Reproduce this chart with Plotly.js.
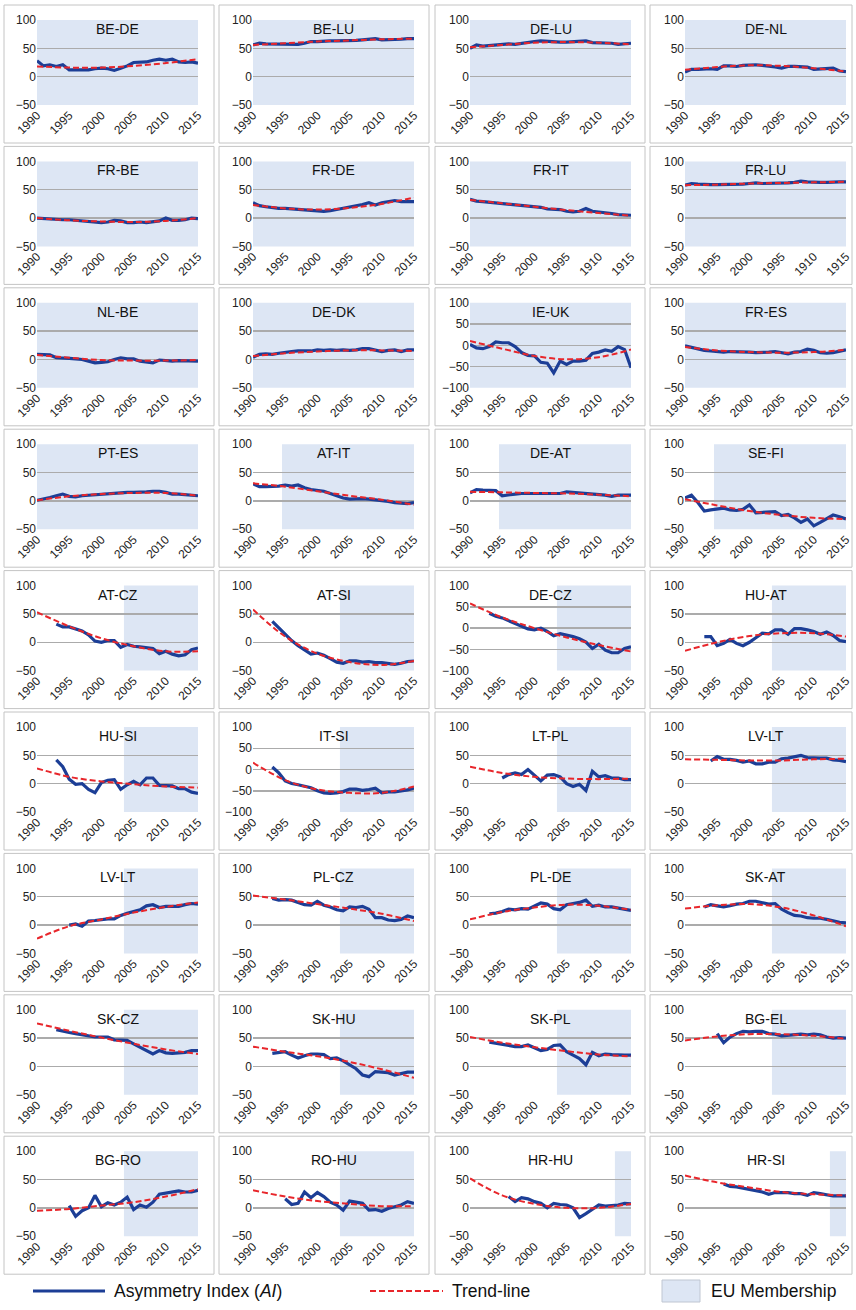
<!DOCTYPE html>
<html>
<head>
<meta charset="utf-8">
<script src="https://cdn.plot.ly/plotly-3.0.1.min.js"></script>
<style>
  html, body { margin: 0; padding: 0; background: #ffffff; }
  #chart { width: 856px; height: 1310px; }
</style>
</head>
<body>
<div id="chart"></div>
<script>
// ---------------- DATA ----------------
const pairs = ['BE-DE','BE-LU','DE-LU','DE-NL',
               'FR-BE','FR-DE','FR-IT','FR-LU',
               'NL-BE','DE-DK','IE-UK','FR-ES',
               'PT-ES','AT-IT','DE-AT','SE-FI',
               'AT-CZ','AT-SI','DE-CZ','HU-AT',
               'HU-SI','IT-SI','LT-PL','LV-LT',
               'LV-LT','PL-CZ','PL-DE','SK-AT',
               'SK-CZ','SK-HU','SK-PL','BG-EL',
               'BG-RO','RO-HU','HR-HU','HR-SI'];

// first year of the Asymmetry Index series
const firstYear = [1990,1990,1990,1990,
                   1990,1990,1990,1990,
                   1990,1990,1990,1990,
                   1990,1990,1990,1990,
                   1993,1993,1993,1993,
                   1993,1993,1995,1994,
                   1995,1993,1993,1993,
                   1993,1993,1993,1995,
                   1995,1995,1996,1996];

// year from which both countries are EU members (old members: before 1990)
const euYear = [1958,1958,1958,1958,
                1958,1958,1958,1958,
                1958,1973,1973,1986,
                1986,1995,1995,1995,
                2004,2004,2004,2004,
                2004,2004,2004,2004,
                2004,2004,2004,2004,
                2004,2004,2004,2004,
                2004,2004,2013,2013];

const trendYears = [1990,1995,2000,2005,2010,2015];

// x tick labels (as printed, including the original misprints)
const ticksStd = ['1990','1995','2000','2005','2010','2015'];
const ticksA   = ['1990','1995','2000','2095','2010','2015'];
const ticksB   = ['1990','1995','2000','1995','2010','2015'];
const ticksC   = ['1990','1995','2000','1995','1910','1915'];

// Asymmetry Index series
const AI_BE_DE = [28,19,21,18,21,12,12,12,12,14,15,14,11,15,19,25,25,26,29,31,29,31,26,25,26,24];
const AI_BE_LU = [56,59,58,58,58,58,58,57,59,62,62,63,63,63,63,63,64,65,66,67,65,65,66,66,67,67];
const AI_DE_LU = [50,56,54,55,56,57,58,57,59,60,62,63,62,61,61,61,62,62,63,60,60,60,59,57,58,59];
const AI_DE_NL = [8,13,13,14,14,13,19,19,18,20,21,21,20,19,17,15,18,18,18,17,13,14,14,15,10,9];
const AI_FR_BE = [0,-1,-2,-2,-3,-3,-4,-4,-5,-6,-8,-7,-4,-5,-8,-8,-7,-8,-6,-5,0,-4,-4,-3,0,-1];
const AI_FR_DE = [27,22,20,18,17,17,16,15,14,13,12,12,13,15,17,19,22,24,27,23,27,29,31,29,29,29];
const AI_FR_IT = [33,30,29,28,27,25,24,24,23,22,21,19,16,15,15,12,11,12,17,12,11,10,8,6,5,5];
const AI_FR_LU = [58,61,60,59,59,59,59,59,60,60,61,62,61,61,62,62,62,63,65,64,63,63,63,64,64,64];
const AI_NL_BE = [9,9,8,3,3,2,1,0,-3,-6,-5,-4,0,3,1,1,-3,-5,-6,-1,-2,-3,-2,-2,-2,-3];
const AI_DE_DK = [4,9,10,9,11,13,14,15,15,15,17,16,17,16,17,16,17,19,19,16,14,16,17,14,17,17];
const AI_IE_UK = [2,-6,-8,-3,8,6,6,-3,-17,-24,-25,-40,-42,-65,-37,-45,-37,-37,-35,-19,-16,-11,-14,-3,-10,-53];
const AI_FR_ES = [24,21,18,16,15,14,13,14,14,14,13,12,12,13,14,12,10,13,14,18,16,12,11,12,15,17];
const AI_PT_ES = [1,3,6,9,12,8,7,9,10,10,11,12,13,14,15,15,15,16,17,17,15,12,12,11,9,9];
const AI_AT_IT = [30,25,25,25,26,28,26,28,23,20,19,17,13,9,5,3,4,4,3,2,1,-1,-3,-4,-5,-3];
const AI_DE_AT = [14,20,19,19,18,9,11,12,13,13,13,13,12,12,13,16,15,15,14,12,12,10,8,10,10,10];
const AI_SE_FI = [5,10,-3,-18,-16,-14,-13,-16,-17,-15,-7,-21,-20,-19,-19,-26,-24,-30,-38,-32,-44,-38,-31,-25,-28,-32];
const AI_AT_CZ = [32,27,27,24,20,13,2,0,3,3,-9,-4,-7,-8,-10,-11,-20,-16,-21,-24,-22,-13,-10];
const AI_AT_SI = [37,25,13,3,-6,-13,-21,-19,-23,-29,-35,-37,-33,-33,-35,-34,-36,-36,-38,-39,-37,-34,-33];
const AI_DE_CZ = [35,28,24,18,12,5,-2,-4,0,-8,-18,-13,-16,-20,-25,-33,-48,-38,-52,-58,-58,-48,-44];
const AI_HU_AT = [10,10,-6,-2,5,-2,-6,0,8,16,15,22,22,14,24,24,22,19,14,18,12,3,1];
const AI_HU_SI = [42,30,8,-1,0,-10,-16,2,6,7,-10,-2,4,-2,10,10,-3,-3,-4,-9,-9,-15,-17];
const AI_IT_SI = [6,-8,-27,-33,-36,-40,-43,-50,-55,-56,-55,-52,-46,-46,-49,-47,-44,-55,-53,-53,-51,-48,-44];
const AI_LT_PL = [10,16,19,16,25,15,5,15,16,12,0,-5,-1,-12,22,12,14,10,10,7,7];
const AI_LV_LT_A = [40,48,43,43,41,38,40,35,35,38,38,44,45,47,50,46,45,45,45,42,41,39];
const AI_LV_LT_B = [0,2,-2,7,8,10,11,11,17,21,24,27,34,36,31,33,33,33,36,38,37];
const AI_PL_CZ = [47,44,45,44,40,36,35,42,35,32,27,25,32,31,33,28,13,13,9,8,10,16,13];
const AI_PL_DE = [20,21,24,28,27,29,28,33,39,37,29,27,36,38,40,44,33,35,32,32,30,29,26];
const AI_SK_AT = [32,36,34,32,34,37,38,42,42,40,37,38,28,22,17,16,13,12,12,10,7,5,4];
const AI_SK_CZ = [65,62,60,58,56,54,52,52,52,47,47,46,40,34,28,22,28,24,23,24,25,28,28];
const AI_SK_HU = [23,24,26,20,15,19,22,22,21,14,15,10,3,-4,-15,-18,-9,-10,-11,-15,-13,-10,-10];
const AI_SK_PL = [43,41,39,37,35,35,38,33,28,30,37,38,26,20,14,3,25,19,22,21,20,20,20];
const AI_BG_EL = [58,42,52,58,62,61,62,62,58,57,54,55,57,57,56,57,56,52,50,51,50];
const AI_BG_RO = [4,-15,-5,0,22,2,9,5,10,19,-3,5,1,10,24,26,27,30,28,28,31];
const AI_RO_HU = [16,6,8,28,18,27,20,10,5,-4,12,10,8,-4,-3,-6,-1,2,5,11,8];
const AI_HR_HU = [20,11,18,16,11,8,0,8,6,5,0,-17,-10,-3,5,3,4,5,8,7];
const AI_HR_SI = [42,38,37,35,33,30,28,24,27,27,27,25,25,22,27,25,23,21,21,21];

// Trend-line values read at 1990, 1995, 2000, 2005, 2010, 2015
const TR_BE_DE = [18,16,16,19,24,31];
const TR_BE_LU = [56,59,62,64,66,67];
const TR_DE_LU = [52,56,60,61,60,57];
const TR_DE_NL = [12,17,20,19,15,9];
const TR_FR_BE = [0,-4,-6,-7,-5,0];
const TR_FR_DE = [23,17,15,18,25,36];
const TR_FR_IT = [32,26,20,14,9,4];
const TR_FR_LU = [58,59,61,62,63,64];
const TR_NL_BE = [8,3,-1,-2,-2,-1];
const TR_DE_DK = [6,11,14,16,16,15];
const TR_IE_UK = [10,-8,-25,-33,-28,-10];
const TR_FR_ES = [22,16,13,12,13,17];
const TR_PT_ES = [1,8,12,14,14,9];
const TR_AT_IT = [31,25,17,9,2,-7];
const TR_DE_AT = [16,15,14,13,11,8];
const TR_SE_FI = [3,-8,-18,-25,-30,-32];
const TR_AT_CZ = [53,28,7,-7,-16,-16];
const TR_AT_SI = [58,10,-20,-35,-40,-33];
const TR_DE_CZ = [58,25,0,-22,-40,-55];
const TR_HU_AT = [-15,0,11,16,16,10];
const TR_HU_SI = [27,12,4,-1,-5,-7];
const TR_IT_SI = [16,-25,-47,-55,-55,-40];
const TR_LT_PL = [30,19,12,9,8,9];
const TR_LV_LT_A = [43,42,41,41,43,44];
const TR_LV_LT_B = [-24,-2,10,22,32,40];
const TR_PL_CZ = [52,45,37,29,20,7];
const TR_PL_DE = [10,23,31,36,34,27];
const TR_SK_AT = [29,35,37,31,17,-2];
const TR_SK_CZ = [76,63,51,40,30,22];
const TR_SK_HU = [35,26,18,8,-5,-20];
const TR_SK_PL = [52,42,34,27,21,18];
const TR_BG_EL = [46,53,57,57,54,49];
const TR_BG_RO = [-5,-2,4,10,20,33];
const TR_RO_HU = [31,20,12,7,3,3];
const TR_HR_HU = [52,22,7,0,0,7];
const TR_HR_SI = [57,45,36,28,24,22];

const aiSeries = [AI_BE_DE,AI_BE_LU,AI_DE_LU,AI_DE_NL,AI_FR_BE,AI_FR_DE,AI_FR_IT,AI_FR_LU,
  AI_NL_BE,AI_DE_DK,AI_IE_UK,AI_FR_ES,AI_PT_ES,AI_AT_IT,AI_DE_AT,AI_SE_FI,
  AI_AT_CZ,AI_AT_SI,AI_DE_CZ,AI_HU_AT,AI_HU_SI,AI_IT_SI,AI_LT_PL,AI_LV_LT_A,
  AI_LV_LT_B,AI_PL_CZ,AI_PL_DE,AI_SK_AT,AI_SK_CZ,AI_SK_HU,AI_SK_PL,AI_BG_EL,
  AI_BG_RO,AI_RO_HU,AI_HR_HU,AI_HR_SI];
const trendSeries = [TR_BE_DE,TR_BE_LU,TR_DE_LU,TR_DE_NL,TR_FR_BE,TR_FR_DE,TR_FR_IT,TR_FR_LU,
  TR_NL_BE,TR_DE_DK,TR_IE_UK,TR_FR_ES,TR_PT_ES,TR_AT_IT,TR_DE_AT,TR_SE_FI,
  TR_AT_CZ,TR_AT_SI,TR_DE_CZ,TR_HU_AT,TR_HU_SI,TR_IT_SI,TR_LT_PL,TR_LV_LT_A,
  TR_LV_LT_B,TR_PL_CZ,TR_PL_DE,TR_SK_AT,TR_SK_CZ,TR_SK_HU,TR_SK_PL,TR_BG_EL,
  TR_BG_RO,TR_RO_HU,TR_HR_HU,TR_HR_SI];
const tickSets = [ticksStd,ticksStd,ticksA,ticksA, ticksStd,ticksB,ticksC,ticksC];

// ---------------- LAYOUT ----------------
const W = 856, H = 1310;
const colPlotL = [37, 253, 470, 685];
const plotW = 161;
const colBoxL = [4, 219, 435, 650];
const colBoxR = [214, 429, 645, 852];
const rowTop0 = 20, rowPitch = 141.4, plotH = 85;

const FONT = 'Liberation Sans, Arial, sans-serif';
const BLUE = '#1c3e96';
const RED = '#e8262b';
const EUFILL = '#dde6f4';

const px = v => v / W;
const py = v => 1 - v / H;

const traces = [];
const shapes = [];
const annotations = [];
const layout = {
  width: W, height: H,
  margin: {l: 0, r: 0, t: 0, b: 0},
  paper_bgcolor: '#ffffff',
  plot_bgcolor: 'rgba(0,0,0,0)',
  showlegend: false,
  font: {family: FONT, color: '#222222'}
};

pairs.forEach((name, i) => {
  const n = i + 1;
  const sfx = n === 1 ? '' : String(n);
  const r = Math.floor(i / 4), c = i % 4;
  const top = rowTop0 + r * rowPitch;
  const left = colPlotL[c];
  const vals = aiSeries[i];
  const xs = vals.map((v, k) => firstYear[i] + k);
  const minV = Math.min(...vals, ...trendSeries[i]);
  const yMin = minV < -52 ? -100 : -50;
  const tt = tickSets[i] || ticksStd;

  layout['xaxis' + sfx] = {
    domain: [px(left), px(left + plotW)],
    anchor: 'y' + sfx,
    range: [1990, 2015],
    tickmode: 'array',
    tickvals: trendYears,
    ticktext: tt,
    tickangle: -45,
    tickfont: {family: FONT, size: 12, color: '#222222'},
    showgrid: false, zeroline: false, showline: false, ticks: '',
    fixedrange: true
  };
  const yt = [];
  for (let v = yMin; v <= 100; v += 50) yt.push(v);
  layout['yaxis' + sfx] = {
    domain: [py(top + plotH), py(top)],
    anchor: 'x' + sfx,
    range: [yMin, 100],
    tickmode: 'array',
    tickvals: yt,
    tickfont: {family: FONT, size: 12, color: '#222222'},
    showgrid: true, gridcolor: '#ababab', gridwidth: 1.5,
    zeroline: false, showline: false, ticks: '',
    fixedrange: true
  };

  // EU membership shading (bars centred on yearly categories)
  shapes.push({
    type: 'rect', layer: 'below',
    xref: 'x' + sfx, yref: 'y' + sfx + ' domain',
    x0: Math.max(1990, euYear[i] - 0.5), x1: 2015, y0: 0, y1: 1,
    fillcolor: EUFILL, line: {width: 0}
  });
  // panel frame
  shapes.push({
    type: 'rect', layer: 'below', xref: 'paper', yref: 'paper',
    x0: px(colBoxL[c]), x1: px(colBoxR[c]),
    y0: py(top - 15), y1: py(top + 123),
    fillcolor: 'rgba(0,0,0,0)', line: {color: '#c4c4c4', width: 1}
  });

  traces.push({
    type: 'scatter', mode: 'lines', x: xs, y: vals,
    xaxis: 'x' + sfx, yaxis: 'y' + sfx,
    line: {color: BLUE, width: 3.2}, hoverinfo: 'skip'
  });
  traces.push({
    type: 'scatter', mode: 'lines', x: trendYears, y: trendSeries[i],
    xaxis: 'x' + sfx, yaxis: 'y' + sfx,
    line: {color: RED, width: 2, dash: '6px,3px', shape: 'spline', smoothing: 1},
    hoverinfo: 'skip'
  });

  annotations.push({
    xref: 'x' + sfx + ' domain', yref: 'paper',
    x: 0.5, y: py(top + 9), xanchor: 'center', yanchor: 'middle',
    text: name, showarrow: false,
    font: {family: FONT, size: 14, color: '#111111'}
  });
});

// ---------------- LEGEND ----------------
const legY = 1291;
shapes.push({type: 'line', xref: 'paper', yref: 'paper',
  x0: px(33), x1: px(105), y0: py(legY), y1: py(legY),
  line: {color: BLUE, width: 3}});
annotations.push({xref: 'paper', yref: 'paper', x: px(112), y: py(legY),
  xanchor: 'left', yanchor: 'middle', showarrow: false,
  text: 'Asymmetry Index (<i>AI</i>)', font: {family: FONT, size: 17.5, color: '#111111'}});
shapes.push({type: 'line', xref: 'paper', yref: 'paper',
  x0: px(370), x1: px(443), y0: py(legY), y1: py(legY),
  line: {color: RED, width: 2, dash: '6px,3px'}});
annotations.push({xref: 'paper', yref: 'paper', x: px(450), y: py(legY),
  xanchor: 'left', yanchor: 'middle', showarrow: false,
  text: 'Trend-line', font: {family: FONT, size: 17.5, color: '#111111'}});
shapes.push({type: 'rect', xref: 'paper', yref: 'paper',
  x0: px(662), x1: px(700), y0: py(1302), y1: py(1280),
  fillcolor: EUFILL, line: {color: '#bfc6d2', width: 1}});
annotations.push({xref: 'paper', yref: 'paper', x: px(709), y: py(legY),
  xanchor: 'left', yanchor: 'middle', showarrow: false,
  text: 'EU Membership', font: {family: FONT, size: 17.5, color: '#111111'}});

layout.shapes = shapes;
layout.annotations = annotations;

Plotly.newPlot('chart', traces, layout, {staticPlot: true, displayModeBar: false});
</script>
</body>
</html>
